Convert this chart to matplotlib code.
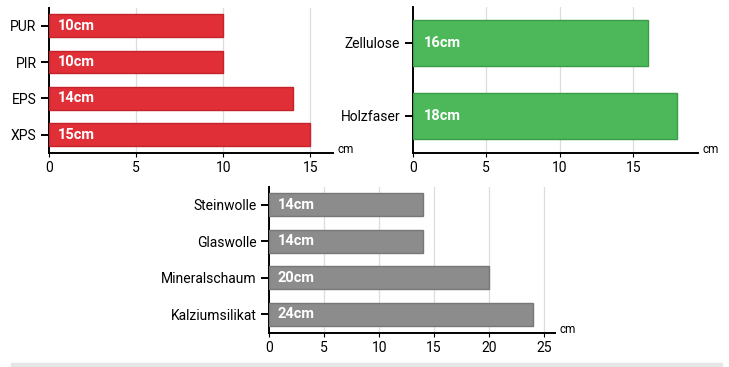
import matplotlib.pyplot as plt

# data
synth_names = ["PUR", "PIR", "EPS", "XPS"]
synth_values = [10, 10, 14, 15]

natur_names = ["Zellulose", "Holzfaser"]
natur_values = [16, 18]

mineral_names = ["Steinwolle", "Glaswolle", "Mineralschaum", "Kalziumsilikat"]
mineral_values = [14, 14, 20, 24]

plt.rcParams["font.family"] = ["Roboto", "DejaVu Sans"]


def draw_panel(ax, names, values, color, edge, xmax, xticks, label_pad):
    ypos = list(range(len(names)))
    ax.barh(ypos, values, height=0.63, color=color, edgecolor=edge,
            linewidth=1.0, zorder=3)
    for y, v in zip(ypos, values):
        ax.text(label_pad, y, f"{v}cm", color="white", fontweight="bold",
                fontsize=10.5, va="center", ha="left", zorder=4)
    ax.set_yticks(ypos)
    ax.set_yticklabels(names, fontsize=10)
    ax.set_ylim(len(names) - 0.49, -0.49)
    ax.set_xlim(0, xmax)
    ax.set_xticks(xticks)
    ax.set_xticklabels([str(t) for t in xticks], fontsize=10)
    ax.tick_params(axis="y", length=6, width=1.4, pad=3)
    ax.tick_params(axis="x", length=3, width=0.8, pad=2.5)
    for s in ["top", "right"]:
        ax.spines[s].set_visible(False)
    ax.spines["left"].set_linewidth(1.4)
    ax.spines["bottom"].set_linewidth(1.4)
    for t in xticks[1:]:
        ax.axvline(t, color="#dddddd", linewidth=0.9, zorder=1)
    ax.text(1.015, 0.025, "cm", transform=ax.transAxes, fontsize=8.5,
            va="center", ha="left")


fig = plt.figure(figsize=(7.29, 3.67), dpi=100)

ax1 = fig.add_axes([0.0672, 0.5831, 0.3896, 0.395])
draw_panel(ax1, synth_names, synth_values, "#e12f37", "#c4232b", 16.3,
           [0, 5, 10, 15], 0.5)

ax2 = fig.add_axes([0.5661, 0.5831, 0.3914, 0.398])
draw_panel(ax2, natur_names, natur_values, "#4cb85a", "#3a9c48", 19.4,
           [0, 5, 10, 15], 0.75)

ax3 = fig.add_axes([0.3694, 0.0926, 0.3919, 0.398])
draw_panel(ax3, mineral_names, mineral_values, "#8c8c8c", "#777777", 26.0,
           [0, 5, 10, 15, 20, 25], 0.75)

# light strip at the bottom
fig.patches.append(plt.Rectangle((0.015, 0.0), 0.975, 0.011,
                                 transform=fig.transFigure,
                                 color="#e6e6e6", zorder=0))

fig.savefig("out.png", dpi=100)
